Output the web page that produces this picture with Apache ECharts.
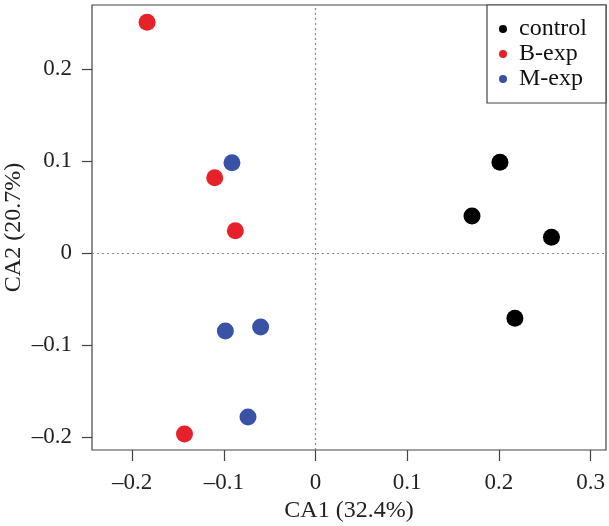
<!DOCTYPE html>
<html>
<head>
<meta charset="utf-8">
<script src="https://cdn.jsdelivr.net/npm/echarts@6/dist/echarts.min.js"></script>
<style>html,body{margin:0;padding:0;background:#fff;}#c{width:609px;height:526px;}</style>
</head>
<body>
<div id="c"></div>
<script>
var groups = ['control', 'B-exp', 'M-exp'];
var controlPts = [[0.2012, 0.0986], [0.1707, 0.0402], [0.2574, 0.0171], [0.2175, -0.0710]];
var bexpPts = [[-0.1838, 0.2508], [-0.1100, 0.0818], [-0.0875, 0.0242], [-0.1430, -0.1967]];
var mexpPts = [[-0.0912, 0.0982], [-0.0984, -0.0848], [-0.0599, -0.0804], [-0.0737, -0.1783]];
var xTicks = [-0.2, -0.1, 0, 0.1, 0.2, 0.3];
var yTicks = [-0.2, -0.1, 0, 0.1, 0.2];
var colors = ['#000000', '#e6212a', '#3a52a6'];

var font = 'Liberation Serif';
function fmt(v) {
  var s = (Math.round(v * 10) / 10).toString();
  return s.replace('-', '\u2013');
}
var chart = echarts.init(document.getElementById('c'));
var dataSets = [controlPts, bexpPts, mexpPts];
var series = groups.map(function (g, i) {
  return {
    name: g, type: 'scatter', data: dataSets[i], symbolSize: 17,
    itemStyle: { color: colors[i], opacity: 1 }, z: 5
  };
});
series.push({
  type: 'scatter', data: [], silent: true,
  markLine: {
    silent: true, symbol: 'none', animation: false,
    label: { show: false },
    lineStyle: { color: '#888', type: [2, 3], width: 1.2 },
    data: [{ xAxis: 0 }, { yAxis: 0 }]
  }
});
chart.setOption({
  animation: false,
  backgroundColor: '#fff',
  grid: { left: 92, right: 3, top: 5, bottom: 76, show: true, borderColor: '#444', borderWidth: 1.2, containLabel: false, outerBoundsMode: 'none' },
  legend: {
    data: groups, orient: 'vertical', left: 487, top: 5,
    borderColor: '#444', borderWidth: 1.2, backgroundColor: '#fff',
    padding: [12, 19, 12, 12], itemGap: 1, itemWidth: 8, itemHeight: 8, icon: 'circle',
    textStyle: { fontFamily: font, fontSize: 24, color: '#111', lineHeight: 22, padding: [0, 0, 0, 7] }
  },
  xAxis: {
    type: 'value', min: -0.2439, max: 0.3169,
    name: 'CA1 (32.4%)', nameLocation: 'middle', nameGap: 49, nameMoveOverlap: false,
    nameTextStyle: { fontFamily: font, fontSize: 24, color: '#222' },
    axisLine: { show: false, onZero: false },
    axisTick: { show: true, inside: false, length: 11, lineStyle: { color: '#444', width: 1.2 }, customValues: xTicks },
    axisLabel: { fontFamily: font, fontSize: 23, color: '#222', margin: 21, customValues: xTicks, formatter: fmt },
    splitLine: { show: false }
  },
  yAxis: {
    type: 'value', min: -0.2141, max: 0.2696,
    name: 'CA2 (20.7%)', nameLocation: 'middle', nameGap: 66, nameRotate: 90, nameMoveOverlap: false,
    nameTextStyle: { fontFamily: font, fontSize: 24, color: '#222' },
    axisLine: { show: false, onZero: false },
    axisTick: { show: true, inside: false, length: 10, lineStyle: { color: '#444', width: 1.2 }, customValues: yTicks },
    axisLabel: { fontFamily: font, fontSize: 23, color: '#222', margin: 20, customValues: yTicks, formatter: fmt },
    splitLine: { show: false }
  },
  series: series
});
</script>
</body>
</html>
